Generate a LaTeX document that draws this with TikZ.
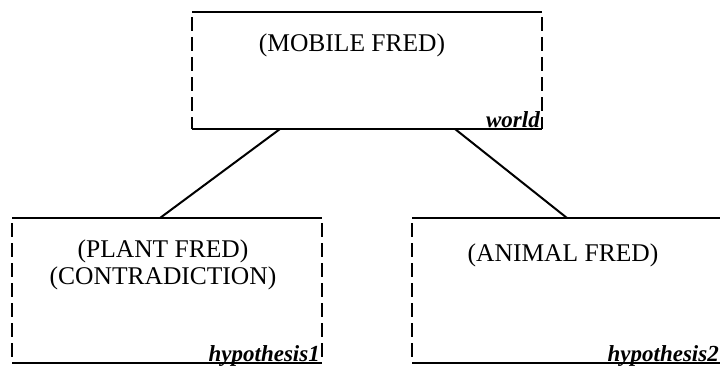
\documentclass[tikz,border=0pt]{standalone}
\usepackage{fontspec}
\setmainfont{Liberation Serif}
\begin{document}
\begin{tikzpicture}[x=1pt,y=-1pt,
  boxarea/.style={inner sep=0pt,outer sep=0pt,minimum width=#1},
  solidedge/.style={line width=2.2pt},
  dashedge/.style={line width=1.9pt,dash pattern=on 14pt off 6pt,dash phase=-5pt},
  maintext/.style={font=\fontsize{25.5}{27}\selectfont,inner sep=0pt},
  tagtext/.style={font=\fontsize{23}{24}\selectfont\bfseries\itshape,inner sep=0pt,anchor=base east},
  link/.style={line width=2pt}]
\useasboundingbox (0,0) rectangle (720,369);
\clip (0,0) rectangle (720,369);
\fill[white] (0,0) rectangle (720,369);
% boxes
\node[boxarea=350pt,minimum height=117pt] (world) at (367,70.5) {};
\node[boxarea=310pt,minimum height=145pt] (hyp1) at (167,290.5) {};
\node[boxarea=310pt,minimum height=145pt] (hyp2) at (567,290.5) {};
\foreach \b in {world,hyp1,hyp2}{
  \draw[solidedge] (\b.north west) -- (\b.north east);
  \draw[solidedge] (\b.south west) -- (\b.south east);
  \draw[dashedge] (\b.north west) -- (\b.south west);
  \draw[dashedge] (\b.north east) -- (\b.south east);
}
% texts
\node[maintext] (t0) at (352,45) {(MOBILE FRED)};
\node[maintext] (t1) at (163,251) {(PLANT FRED)};
\node[maintext] (t2) at (163,278) {(CONTRADICTION)};
\node[maintext] (t3) at (563,255) {(ANIMAL FRED)};
\node[tagtext] (l0) at ([xshift=-2pt,yshift=2pt]world.south east) {world};
\node[tagtext] (l1) at ([xshift=-2pt,yshift=2pt]hyp1.south east) {hypothesis1};
\node[tagtext] (l2) at ([xshift=-3pt,yshift=2pt]hyp2.south east) {hypothesis2};
% connectors
\coordinate (a0) at (280,129);
\coordinate (a1) at (160,218);
\coordinate (b0) at (455,129);
\coordinate (b1) at (567,218);
\draw[link] (a0) -- (a1);
\draw[link] (b0) -- (b1);
\end{tikzpicture}
\end{document}
